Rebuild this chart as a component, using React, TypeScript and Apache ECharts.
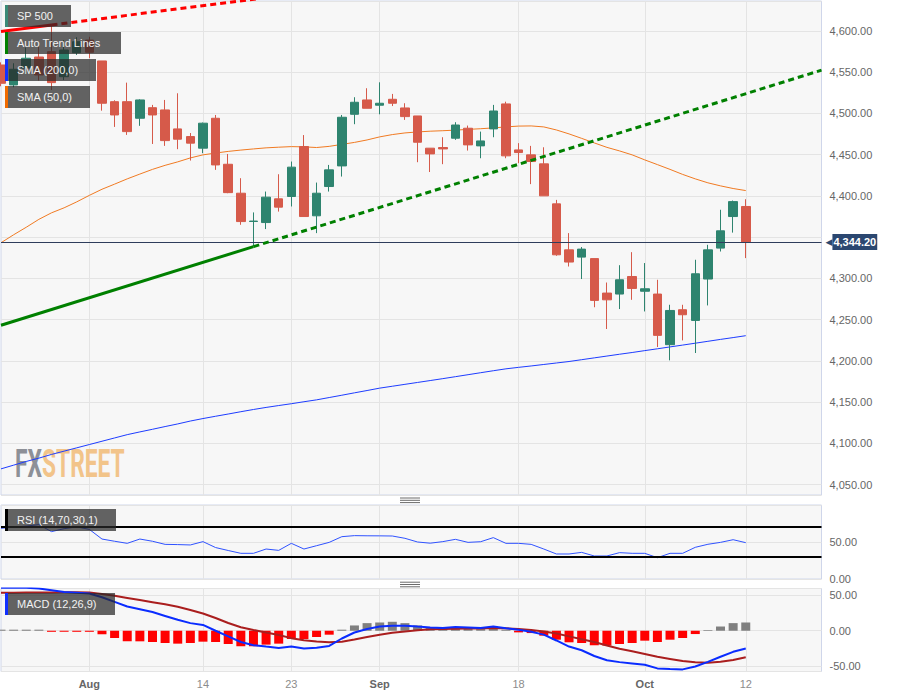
import React, { useEffect, useRef } from 'react';
import * as echarts from 'echarts';

// ---------- DATA ----------
const dates = [
  '2023-07-21', '2023-07-24', '2023-07-25', '2023-07-26', '2023-07-27', '2023-07-28', '2023-07-31',
  '2023-08-01', '2023-08-02', '2023-08-03', '2023-08-04', '2023-08-07', '2023-08-08', '2023-08-09',
  '2023-08-10', '2023-08-11', '2023-08-14', '2023-08-15', '2023-08-16', '2023-08-17', '2023-08-18',
  '2023-08-21', '2023-08-22', '2023-08-23', '2023-08-24', '2023-08-25', '2023-08-28', '2023-08-29',
  '2023-08-30', '2023-08-31', '2023-09-01', '2023-09-04', '2023-09-05', '2023-09-06', '2023-09-07',
  '2023-09-08', '2023-09-11', '2023-09-12', '2023-09-13', '2023-09-14', '2023-09-15', '2023-09-18',
  '2023-09-19', '2023-09-20', '2023-09-21', '2023-09-22', '2023-09-25', '2023-09-26', '2023-09-27',
  '2023-09-28', '2023-09-29', '2023-10-02', '2023-10-03', '2023-10-04', '2023-10-05', '2023-10-06',
  '2023-10-09', '2023-10-10', '2023-10-11', '2023-10-12',
  '2023-10-13', '2023-10-16', '2023-10-17', '2023-10-18', '2023-10-19', '2023-10-20',
];

const tickDates = ['2023-08-01', '2023-08-14', '2023-08-23', '2023-09-01', '2023-09-18', '2023-10-02', '2023-10-12'];
const tickLabels = ['Aug', '14', '23', 'Sep', '18', 'Oct', '12'];

const opens = [
  4558.8, 4534.6, 4555.0, 4568.5, 4575.0, 4544.6, 4573.7, 4589.0, 4563.7, 4514.3,
  4514.3, 4494.2, 4507.0, 4504.3, 4481.3, 4472.0, 4457.9, 4494.2, 4438.4, 4403.3,
  4369.0, 4367.7, 4396.5, 4399.3, 4459.9, 4375.9, 4411.4, 4436.4, 4499.0, 4516.4,
  4510.0, 4517.2, 4506.7, 4497.0, 4457.9, 4458.7, 4470.0, 4482.1, 4460.7, 4481.3,
  4511.6, 4455.8, 4449.8, 4438.9, 4390.4, 4334.6, 4325.8, 4324.0, 4282.2, 4281.0,
  4302.3, 4284.4, 4281.0, 4219.6, 4262.0, 4249.0, 4299.2, 4336.7, 4375.0, 4387.2,
];
const closes = [
  4536.6, 4553.6, 4567.0, 4546.7, 4537.4, 4577.0, 4587.0, 4574.2, 4512.4, 4498.2,
  4478.0, 4516.4, 4498.2, 4467.1, 4468.8, 4464.0, 4488.2, 4437.6, 4404.0, 4368.9,
  4369.5, 4398.5, 4386.4, 4434.9, 4375.0, 4403.3, 4431.6, 4495.4, 4513.6, 4506.3,
  4512.4, 4512.4, 4496.2, 4465.1, 4451.0, 4457.0, 4486.0, 4461.9, 4466.7, 4503.0,
  4448.6, 4452.6, 4441.7, 4400.1, 4328.6, 4319.8, 4335.5, 4273.3, 4274.0, 4298.3,
  4287.8, 4287.4, 4230.9, 4261.1, 4255.9, 4305.6, 4334.6, 4357.7, 4393.1, 4344.2,
];
const lows = [
  4533.0, 4531.8, 4548.0, 4540.0, 4528.5, 4540.6, 4571.0, 4567.0, 4503.4, 4483.7,
  4474.0, 4485.0, 4463.0, 4460.7, 4456.7, 4442.9, 4451.8, 4431.6, 4403.3, 4365.0,
  4338.7, 4359.8, 4381.0, 4387.2, 4375.0, 4354.9, 4405.3, 4423.5, 4487.0, 4506.3,
  4499.0, 4509.0, 4492.2, 4440.9, 4429.0, 4438.5, 4468.0, 4455.0, 4445.7, 4471.2,
  4445.7, 4439.7, 4414.3, 4400.1, 4327.4, 4314.4, 4299.2, 4265.0, 4238.6, 4262.8,
  4274.0, 4259.9, 4216.8, 4200.6, 4224.8, 4209.5, 4267.2, 4332.6, 4355.5, 4324.6,
];
const highs = [
  4562.0, 4560.9, 4580.0, 4581.0, 4608.5, 4589.0, 4592.4, 4593.0, 4563.7, 4516.0,
  4537.4, 4517.2, 4510.4, 4516.4, 4524.5, 4476.3, 4489.0, 4498.2, 4450.9, 4421.5,
  4380.0, 4405.3, 4426.3, 4441.7, 4473.8, 4416.2, 4437.6, 4498.2, 4519.7, 4530.6,
  4537.8, 4523.7, 4512.4, 4497.0, 4457.9, 4471.2, 4489.4, 4485.3, 4478.0, 4510.4,
  4514.3, 4464.0, 4460.7, 4459.0, 4395.2, 4354.9, 4338.0, 4324.0, 4295.0, 4316.0,
  4331.8, 4318.6, 4298.3, 4268.0, 4268.0, 4322.6, 4340.7, 4383.2, 4394.4, 4396.0,
];

const sma50 = [
  4343.2, 4352.9, 4362.0, 4371.6, 4379.5, 4385.6, 4392.8, 4400.7, 4408.1, 4414.3,
  4420.7, 4426.5, 4432.2, 4437.1, 4441.3, 4446.1, 4449.8, 4452.0, 4454.0, 4455.6,
  4457.0, 4458.3, 4459.1, 4459.8, 4459.5, 4458.7, 4460.1, 4462.5, 4464.9, 4467.9,
  4471.6, 4474.4, 4476.4, 4477.6, 4478.5, 4479.1, 4479.8, 4480.7, 4481.5, 4482.5,
  4483.7, 4484.7, 4484.9, 4483.7, 4480.0, 4475.2, 4469.8, 4464.3, 4458.9, 4454.6,
  4449.8, 4443.7, 4438.0, 4432.2, 4426.1, 4420.7, 4415.9, 4412.2, 4409.0, 4406.5,
];
const sma200 = [
  4069.0, 4073.5, 4078.0, 4082.0, 4086.5, 4090.5, 4094.5, 4098.5, 4102.5, 4106.5,
  4110.5, 4113.8, 4117.0, 4120.3, 4123.5, 4127.0, 4130.0, 4132.8, 4135.5, 4138.3,
  4141.0, 4143.5, 4145.8, 4148.0, 4150.4, 4152.7, 4155.5, 4158.3, 4161.2, 4164.0,
  4166.9, 4169.2, 4171.5, 4173.8, 4176.1, 4178.4, 4180.8, 4183.2, 4185.6, 4188.0,
  4190.3, 4192.1, 4193.8, 4195.6, 4197.4, 4199.2, 4201.4, 4203.6, 4205.8, 4208.0,
  4210.1, 4212.4, 4214.6, 4216.9, 4219.1, 4221.4, 4223.7, 4226.0, 4228.2, 4230.5,
];

// auto trend lines: [category index, price] end points
const trendRedSolid = [[0, 4599.5], [4, 4607.3]];
const trendRedDotted = [[4, 4607.3], [25, 4648.3]];
const trendGreenSolid = [[0, 4243.2], [20, 4338.5]];
const trendGreenDotted = [[20, 4338.5], [65, 4552.5]];

const lastPrice = 4344.2;

const rsi = [
  68.5, 70.0, 71.5, 73.5, 64.0, 68.0, 70.5, 67.0, 54.0, 51.0,
  48.2, 54.0, 51.0, 46.8, 46.5, 46.0, 50.5, 42.5, 38.5, 34.7,
  34.7, 40.5, 38.7, 48.2, 40.5, 45.0, 49.5, 57.2, 58.6, 58.4,
  58.3, 58.1, 55.0, 50.0, 48.4, 50.5, 53.6, 49.5, 50.4, 55.9,
  48.2, 48.2, 46.8, 40.5, 33.8, 33.8, 36.0, 31.1, 31.1, 35.6,
  34.7, 34.7, 28.8, 34.7, 34.7, 42.8, 46.9, 49.5, 53.1, 49.1,
];
const rsiLevels = [70, 30];

const macd = [
  61.0, 61.0, 61.0, 60.0, 57.5, 55.0, 54.0, 52.8, 47.5, 41.0,
  34.3, 30.5, 26.5, 21.0, 15.5, 10.8, 8.2, 0.0, -8.0, -16.0,
  -20.5, -22.5, -24.4, -22.3, -25.2, -24.0, -21.5, -11.0, -2.5, 2.5,
  6.0, 7.0, 7.2, 5.9, 4.7, 4.0, 5.2, 4.5, 3.8, 6.0,
  3.6, 1.3, -1.5, -5.5, -13.8, -22.4, -27.7, -35.8, -41.8, -44.5,
  -46.3, -48.2, -53.4, -54.4, -54.8, -50.7, -44.1, -36.9, -29.9, -25.3,
];
const signal = [
  54.0, 54.0, 54.2, 54.3, 54.4, 54.5, 54.5, 54.4, 52.0, 49.5,
  46.5, 43.5, 40.5, 37.5, 34.0, 29.5, 24.5, 18.0, 11.0, 5.0,
  1.0, -2.5, -6.0, -10.5, -13.5, -15.2, -16.2, -15.5, -12.5, -9.0,
  -5.6, -3.0, -1.0, 0.8, 2.0, 2.4, 2.8, 3.0, 3.3, 4.0,
  3.5, 2.5, 1.2, -1.0, -4.0, -8.0, -12.0, -16.0, -21.0, -25.5,
  -29.0, -33.0, -37.0, -40.0, -43.0, -44.6, -45.3, -44.0, -41.5, -37.6,
];
const hist = [
  1.5, 1.5, 1.5, 1.5, -1.5, -1.5, -1.5, -1.5, -5.0, -10.3,
  -15.0, -15.0, -16.0, -17.4, -18.3, -17.4, -15.5, -16.0, -18.8, -22.0,
  -22.0, -19.7, -18.3, -11.7, -11.7, -8.9, -5.6, 1.5, 7.5, 10.8,
  11.7, 12.7, 10.8, 7.5, 4.7, 4.0, 3.8, 2.8, 2.3, 6.0,
  1.5, -2.3, -3.3, -7.0, -12.7, -16.4, -17.4, -20.6, -21.0, -18.8,
  -17.4, -14.1, -16.0, -12.7, -10.3, -4.7, 1.0, 6.0, 10.8, 11.7,
];

const legendMain = ['SP 500', 'Auto Trend Lines', 'SMA (200,0)', 'SMA (50,0)'];
const legendRsi = 'RSI (14,70,30,1)';
const legendMacd = 'MACD (12,26,9)';

// ---------- HELPERS ----------
const FONT = '"Liberation Sans", Arial, sans-serif';
const fmt2 = (v: number) => v.toLocaleString('en-US', { minimumFractionDigits: 2, maximumFractionDigits: 2 });
const isMult = (v: number, step: number) => Math.abs(v / step - Math.round(v / step)) < 1e-6;

const UP = '#2e846f';
const DOWN = '#d65a4a';
const GRID_LINE = '#e4e4e4';
const BORDER = '#cfd6ea';

const PLOT_LEFT = 1;
const PLOT_WIDTH = 820.5;

function legendBox(text: string, stripe: string, x: number, y: number, w: number) {
  return {
    type: 'group',
    x,
    y,
    children: [
      { type: 'rect', z: 100, shape: { x: 0, y: 0, width: w, height: 22 }, style: { fill: 'rgba(40,40,40,0.72)' } },
      { type: 'rect', z: 101, shape: { x: 0, y: 0, width: 3, height: 22 }, style: { fill: stripe } },
      {
        type: 'text',
        z: 102,
        x: 12,
        y: 11,
        style: { text, fill: '#f2f2f2', font: `11px ${FONT}`, verticalAlign: 'middle', align: 'left' },
      },
    ],
  };
}

function handle(cx: number, cy: number) {
  return {
    type: 'group',
    children: [-2.3, 0, 2.3].map((d) => ({
      type: 'line',
      z: 100,
      shape: { x1: cx - 10, y1: cy + d, x2: cx + 10, y2: cy + d },
      style: { stroke: '#6a6a6a', lineWidth: 1 },
    })),
  };
}

function buildOption() {
  const grids = [
    { left: PLOT_LEFT, top: 1, width: PLOT_WIDTH, height: 494 },
    { left: PLOT_LEFT, top: 505, width: PLOT_WIDTH, height: 74 },
    { left: PLOT_LEFT, top: 588.5, width: PLOT_WIDTH, height: 83 },
  ].map((g) => ({ ...g, show: true, backgroundColor: '#f7f7f7', borderColor: BORDER, borderWidth: 1, containLabel: false }));

  const xAxes = [0, 1, 2].map((gi) => ({
    type: 'category',
    gridIndex: gi,
    data: dates,
    boundaryGap: false,
    axisLine: { show: false },
    axisTick: { show: false },
    axisPointer: { show: false },
    splitLine: {
      show: true,
      interval: (_i: number, v: string) => tickDates.includes(v),
      lineStyle: { color: GRID_LINE, width: 1 },
    },
    axisLabel:
      gi === 2
        ? {
            show: true,
            margin: 7,
            interval: (_i: number, v: string) => tickDates.includes(v),
            formatter: (v: string) => {
              const t = tickLabels[tickDates.indexOf(v)] ?? '';
              return /^\d+$/.test(t) ? `{d|${t}}` : `{m|${t}}`;
            },
            rich: {
              m: { fontFamily: FONT, fontSize: 11, fontWeight: 'bold', color: '#666666' },
              d: { fontFamily: FONT, fontSize: 11, color: '#8c8c8c' },
            },
          }
        : { show: false },
  }));

  const yLabel = { margin: 8, color: '#666666', fontSize: 11, fontFamily: FONT };
  const yAxes = [
    {
      type: 'value',
      gridIndex: 0,
      position: 'right',
      min: 4037.3,
      max: 4636.4,
      splitNumber: 12,
      minInterval: 50,
      maxInterval: 50,
      axisLine: { show: false },
      axisTick: { show: false },
      splitLine: { show: true, lineStyle: { color: GRID_LINE } },
      axisLabel: {
        ...yLabel,
        // the level covered by the last-price tag is not labelled
        formatter: (v: number) => (isMult(v, 50) && Math.abs(v - lastPrice) > 10 ? fmt2(v) : ''),
      },
    },
    {
      type: 'value',
      gridIndex: 1,
      position: 'right',
      min: 0,
      max: 100,
      interval: 50,
      axisLine: { show: false },
      axisTick: { show: false },
      splitLine: { show: true, lineStyle: { color: GRID_LINE } },
      axisLabel: { ...yLabel, formatter: (v: number) => (v === 100 ? '' : fmt2(v)) },
    },
    {
      type: 'value',
      gridIndex: 2,
      position: 'right',
      min: -57.8,
      max: 59.9,
      splitNumber: 2,
      minInterval: 50,
      maxInterval: 50,
      axisLine: { show: false },
      axisTick: { show: false },
      splitLine: { show: true, lineStyle: { color: GRID_LINE } },
      axisLabel: { ...yLabel, formatter: (v: number) => (isMult(v, 50) ? fmt2(v) : '') },
    },
  ];

  const lineBase = { type: 'line', symbol: 'none', silent: true, clip: true, z: 3 };

  const series: any[] = [
    {
      ...lineBase,
      name: 'SMA200',
      xAxisIndex: 0,
      yAxisIndex: 0,
      data: sma200,
      lineStyle: { color: '#1d3cff', width: 1 },
    },
    {
      ...lineBase,
      name: 'SMA50',
      xAxisIndex: 0,
      yAxisIndex: 0,
      data: sma50,
      lineStyle: { color: '#f07a22', width: 1 },
    },
    {
      type: 'candlestick',
      name: 'SP 500',
      xAxisIndex: 0,
      yAxisIndex: 0,
      barWidth: 9,
      clip: true,
      silent: true,
      z: 4,
      data: opens.map((o, i) => [o, closes[i], lows[i], highs[i]]),
      itemStyle: { color: UP, color0: DOWN, borderColor: UP, borderColor0: DOWN, borderWidth: 1 },
      markLine: {
        silent: true,
        symbol: ['none', 'none'],
        lineStyle: { color: '#2e3d5c', width: 1, type: 'solid' },
        label: {
          show: true,
          position: 'end',
          distance: 4,
          formatter: `{a|◀}{b|${fmt2(lastPrice)}}`,
          rich: {
            a: { color: '#2b4770', fontSize: 9, fontFamily: 'DejaVu Sans' },
            b: {
              backgroundColor: '#2b4770',
              color: '#ffffff',
              fontWeight: 'bold',
              fontSize: 11,
              fontFamily: FONT,
              padding: [3, 1, 2, 1],
            },
          },
        },
        data: [{ yAxis: lastPrice }],
      },
    },
    {
      ...lineBase,
      name: 'trendRedSolid',
      xAxisIndex: 0,
      yAxisIndex: 0,
      z: 5,
      data: trendRedSolid,
      lineStyle: { color: '#ff0000', width: 3 },
    },
    {
      ...lineBase,
      name: 'trendRedDotted',
      xAxisIndex: 0,
      yAxisIndex: 0,
      z: 5,
      data: trendRedDotted,
      lineStyle: { color: '#ff0000', width: 3, type: [6, 4] },
    },
    {
      ...lineBase,
      name: 'trendGreenSolid',
      xAxisIndex: 0,
      yAxisIndex: 0,
      z: 5,
      data: trendGreenSolid,
      lineStyle: { color: '#008000', width: 3 },
    },
    {
      ...lineBase,
      name: 'trendGreenDotted',
      xAxisIndex: 0,
      yAxisIndex: 0,
      z: 5,
      data: trendGreenDotted,
      lineStyle: { color: '#008000', width: 3, type: [6, 4] },
    },
    {
      ...lineBase,
      name: 'RSI',
      xAxisIndex: 1,
      yAxisIndex: 1,
      data: rsi,
      lineStyle: { color: '#2f52ff', width: 1 },
      markLine: {
        silent: true,
        symbol: ['none', 'none'],
        label: { show: false },
        lineStyle: { color: '#000000', width: 2, type: 'solid' },
        data: rsiLevels.map((v) => ({ yAxis: v })),
      },
    },
    {
      type: 'bar',
      name: 'Histogram',
      xAxisIndex: 2,
      yAxisIndex: 2,
      barWidth: 9,
      silent: true,
      z: 2,
      data: hist.map((v) => ({ value: v, itemStyle: { color: v >= 0 ? '#808080' : '#ff0000' } })),
    },
    {
      ...lineBase,
      name: 'Signal',
      xAxisIndex: 2,
      yAxisIndex: 2,
      data: signal,
      lineStyle: { color: '#aa1e1e', width: 2 },
    },
    {
      ...lineBase,
      name: 'MACD',
      xAxisIndex: 2,
      yAxisIndex: 2,
      data: macd,
      lineStyle: { color: '#0a2cff', width: 2 },
    },
  ];

  const stripes = ['#3a8a78', '#008000', '#1030ff', '#f06a00'];
  const widths = [66, 116, 91, 85];
  const graphic: any[] = [
    {
      type: 'text',
      x: 15,
      y: 445,
      z: 1,
      scaleX: 0.6,
      style: {
        text: '{a|FX}{b|STREET}',
        verticalAlign: 'top',
        align: 'left',
        rich: {
          a: { fill: '#8d9097', fontSize: 38, fontWeight: 'bold', fontFamily: 'Roboto' },
          b: { fill: '#f2c48a', fontSize: 38, fontWeight: 'bold', fontFamily: 'Roboto' },
        },
      },
    },
    ...legendMain.map((t, i) => legendBox(t, stripes[i], 5, 5 + i * 27, widths[i])),
    legendBox(legendRsi, '#000000', 5, 509, 111),
    legendBox(legendMacd, '#1030ff', 5, 593, 110),
    handle(410, 500.3),
    handle(410, 584.5),
  ];

  return {
    animation: false,
    backgroundColor: '#ffffff',
    textStyle: { fontFamily: FONT },
    grid: grids,
    xAxis: xAxes,
    yAxis: yAxes,
    series,
    graphic,
  };
}

export default function App() {
  const ref = useRef<HTMLDivElement>(null);
  useEffect(() => {
    if (!ref.current) return;
    const chart = echarts.init(ref.current, null, { renderer: 'svg' });
    chart.setOption(buildOption() as any);
    return () => chart.dispose();
  }, []);
  return (
    <div
      ref={ref}
      style={{ position: 'fixed', left: 0, top: 0, width: 898, height: 697, background: '#ffffff' }}
    />
  );
}
